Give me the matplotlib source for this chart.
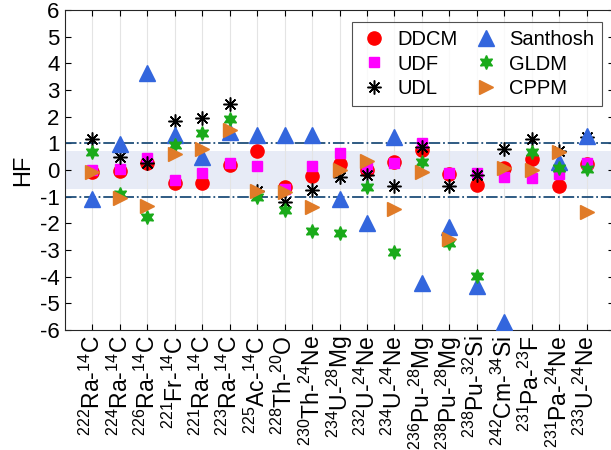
import matplotlib
matplotlib.use('Agg')
import matplotlib.pyplot as plt
import numpy as np

plt.rcParams['font.family'] = ['Liberation Sans', 'DejaVu Sans']
plt.rcParams['mathtext.fontset'] = 'custom'
plt.rcParams['mathtext.rm'] = 'Liberation Sans'
plt.rcParams['mathtext.default'] = 'regular'
plt.rcParams['axes.unicode_minus'] = False

nan = np.nan

# decays: (parent mass, parent, cluster mass, cluster)
parents = ['222', '224', '226', '221', '221', '223', '225', '228', '230', '234',
           '232', '234', '236', '238', '238', '242', '231', '231', '233']
parent_el = ['Ra', 'Ra', 'Ra', 'Fr', 'Ra', 'Ra', 'Ac', 'Th', 'Th', 'U',
             'U', 'U', 'Pu', 'Pu', 'Pu', 'Cm', 'Pa', 'Pa', 'U']
clusters = ['14', '14', '14', '14', '14', '14', '14', '20', '24', '28',
            '24', '24', '28', '28', '32', '34', '23', '24', '24']
cluster_el = ['C', 'C', 'C', 'C', 'C', 'C', 'C', 'O', 'Ne', 'Mg',
              'Ne', 'Ne', 'Mg', 'Mg', 'Si', 'Si', 'F', 'Ne', 'Ne']

ddcm = [-0.06, -0.03, 0.25, -0.47, -0.47, 0.19, 0.72, -0.63, -0.21, 0.21,
        0.0, 0.29, 0.75, -0.15, -0.56, 0.06, 0.4, -0.6, 0.22]
udf = [0.0, 0.04, 0.44, -0.37, -0.1, 0.27, 0.16, -0.71, 0.16, 0.65,
       0.12, 0.27, 1.0, -0.12, -0.1, -0.25, -0.31, -0.15, 0.27]
udl = [1.16, 0.47, 0.25, 1.85, 1.94, 2.47, -0.77, -1.19, -0.76, -0.28,
       -0.19, -0.59, 0.87, -0.59, -0.19, 0.78, 1.15, 0.7, 1.25]
santhosh = [-1.1, 0.97, 3.63, 1.31, 0.47, 1.44, 1.31, 1.31, 1.31, -1.1,
            -2.0, 1.25, -4.25, -2.12, -4.35, -5.69, nan, 0.31, 1.28]
gldm = [0.66, -0.9, -1.78, 0.94, 1.37, 1.91, -1.03, -1.5, -2.27, -2.37,
        -0.65, -3.06, 0.29, -2.72, -3.97, nan, 0.69, 0.06, 0.03]
cppm = [-0.06, -1.06, -1.35, 0.6, 0.79, 1.5, -0.8, -0.82, -1.4, 0.0,
        0.35, -1.48, -0.06, -2.6, nan, 0.06, 0.0, 0.66, -1.59]

labels = [r'$^{%s}$%s-$^{%s}$%s' % (a, b, c, d)
          for a, b, c, d in zip(parents, parent_el, clusters, cluster_el)]
x = np.arange(1, len(labels) + 1)

fig = plt.figure(figsize=(6.11, 4.5), dpi=100)
ax = fig.add_axes([0.1064, 0.2667, 0.8986, 0.7111])

# acceptance band and +/-1 limits
ax.axhspan(-0.7, 0.7, color='#e7ebf6', zorder=0, lw=0)
ax.axhline(1, color='#1f4e79', ls='-.', lw=1.3, zorder=1)
ax.axhline(-1, color='#1f4e79', ls='-.', lw=1.3, zorder=1)

ax.plot(x, ddcm, 'o', color='#ff0000', ms=9.5, ls='none', label='DDCM', zorder=3)
ax.plot(x, udf, 's', color='#ff00ff', ms=7.5, ls='none', label='UDF', zorder=3)
ax.plot(x, udl, marker=(8, 2, 0), color='black', ms=10, mew=1.1, ls='none',
        label='UDL', zorder=3)
ax.plot(x, santhosh, '^', color='#3366dd', ms=11, ls='none', label='Santhosh', zorder=3)
ax.plot(x, gldm, marker=(6, 1, 0), color='#1aaa1a', ms=10, ls='none',
        label='GLDM', zorder=3)
ax.plot(x, cppm, '>', color='#e07b28', ms=10, ls='none', label='CPPM', zorder=3)

ax.set_xlim(0, 20)
ax.set_ylim(-6, 6)
ax.set_yticks(np.arange(-6, 7, 1))
ax.set_xticks(x)
ax.set_xticklabels(labels, rotation=90, fontsize=16.5)
ax.tick_params(axis='y', labelsize=16)
ax.tick_params(direction='in', top=True, right=True, length=4, width=0.8, pad=4)
ax.grid(axis='x', color='#e4e4e4', lw=0.8, zorder=0)
ax.set_axisbelow(True)
ax.set_ylabel('HF', fontsize=17, labelpad=4)
for s in ax.spines.values():
    s.set_linewidth(0.8)
    s.set_color('#262626')

leg = ax.legend(ncol=2, loc='upper left', bbox_to_anchor=(0.5228, 0.963),
                fontsize=14.5, frameon=True, fancybox=False, edgecolor='#262626',
                handletextpad=0.45, columnspacing=0.7, labelspacing=0.28,
                borderpad=0.4, handlelength=1.4, borderaxespad=0)
leg.get_frame().set_linewidth(0.8)

fig.savefig('out.png', dpi=100)
